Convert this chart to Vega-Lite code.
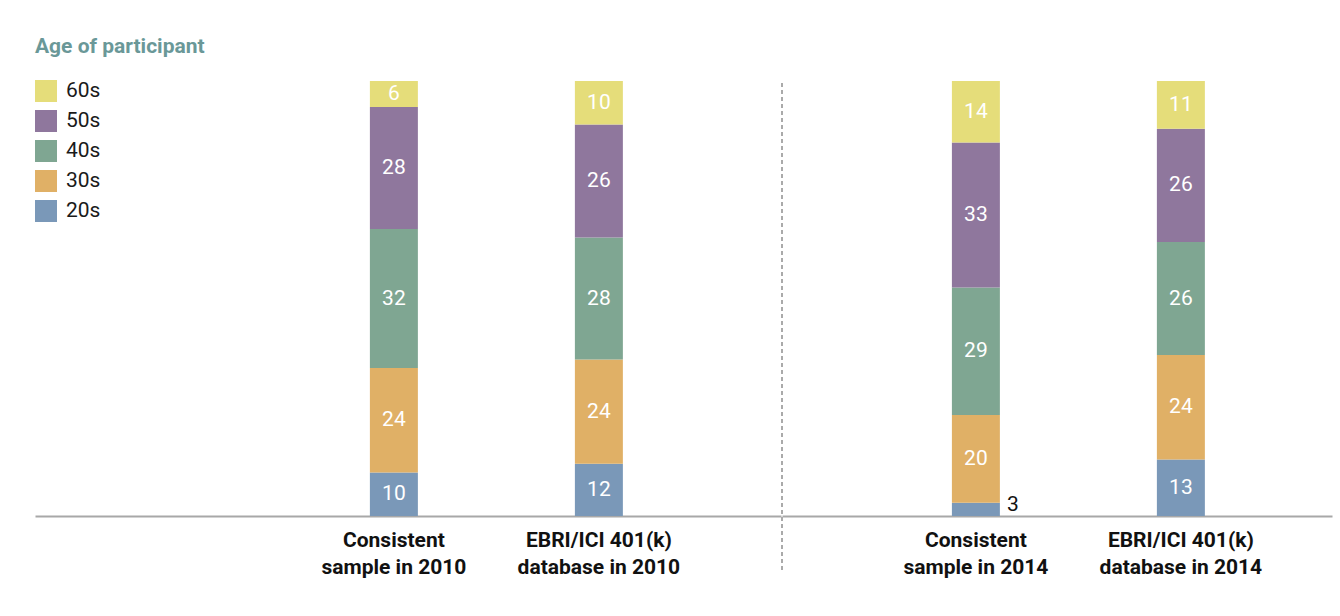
{
  "$schema": "https://vega.github.io/schema/vega-lite/v6.json",
  "background": "white",
  "padding": {"left": 35, "top": 36, "right": 5, "bottom": 5},
  "spacing": 0,
  "config": {"view": {"stroke": null}, "font": "Roboto"},
  "datasets": {"ages": [
    {"period": "2010", "cat": "Consistent sample in 2010", "age": "20s", "pct": 10},
    {"period": "2010", "cat": "Consistent sample in 2010", "age": "30s", "pct": 24},
    {"period": "2010", "cat": "Consistent sample in 2010", "age": "40s", "pct": 32},
    {"period": "2010", "cat": "Consistent sample in 2010", "age": "50s", "pct": 28},
    {"period": "2010", "cat": "Consistent sample in 2010", "age": "60s", "pct": 6},
    {"period": "2010", "cat": "EBRI/ICI 401(k) database in 2010", "age": "20s", "pct": 12},
    {"period": "2010", "cat": "EBRI/ICI 401(k) database in 2010", "age": "30s", "pct": 24},
    {"period": "2010", "cat": "EBRI/ICI 401(k) database in 2010", "age": "40s", "pct": 28},
    {"period": "2010", "cat": "EBRI/ICI 401(k) database in 2010", "age": "50s", "pct": 26},
    {"period": "2010", "cat": "EBRI/ICI 401(k) database in 2010", "age": "60s", "pct": 10},
    {"period": "2014", "cat": "Consistent sample in 2014", "age": "20s", "pct": 3},
    {"period": "2014", "cat": "Consistent sample in 2014", "age": "30s", "pct": 20},
    {"period": "2014", "cat": "Consistent sample in 2014", "age": "40s", "pct": 29},
    {"period": "2014", "cat": "Consistent sample in 2014", "age": "50s", "pct": 33},
    {"period": "2014", "cat": "Consistent sample in 2014", "age": "60s", "pct": 14},
    {"period": "2014", "cat": "EBRI/ICI 401(k) database in 2014", "age": "20s", "pct": 13},
    {"period": "2014", "cat": "EBRI/ICI 401(k) database in 2014", "age": "30s", "pct": 24},
    {"period": "2014", "cat": "EBRI/ICI 401(k) database in 2014", "age": "40s", "pct": 26},
    {"period": "2014", "cat": "EBRI/ICI 401(k) database in 2014", "age": "50s", "pct": 26},
    {"period": "2014", "cat": "EBRI/ICI 401(k) database in 2014", "age": "60s", "pct": 11}
  ]},
  "hconcat": [
    {
      "width": 746,
      "height": 435,
      "data": {"name": "ages"},
      "transform": [
        {"filter": "datum.period == '2010'"},
        {"stack": "pct", "groupby": ["cat"], "offset": "normalize", "sort": [{"field": "age", "order": "ascending"}], "as": ["y0", "y1"]},
        {"calculate": "(datum.y0 + datum.y1) / 2", "as": "mid"}
      ],
      "layer": [
        {
          "mark": {"type": "bar"},
          "encoding": {
            "x": {
              "field": "cat", "type": "nominal",
              "scale": {"domain": [" ", "Consistent sample in 2010", "EBRI/ICI 401(k) database in 2010"], "paddingInner": 0.7659, "paddingOuter": 0.7025, "align": 0.451},
              "axis": {"title": null, "labelAngle": 0, "labelLimit": 0, "ticks": false,
                "labelExpr": "indexof(datum.value, 'Consistent') == 0 ? ['Consistent', slice(datum.value, 11)] : [slice(datum.value, 0, 15), slice(datum.value, 16)]",
                "labelFontSize": 21, "labelFontWeight": "bold", "labelColor": "#111111", "labelPadding": 13, "labelLineHeight": 27,
                "domainColor": "#a8a8a8", "domainWidth": 2}
            },
            "y": {"field": "y0", "type": "quantitative", "scale": {"domain": [0, 1], "nice": false}, "axis": null},
            "y2": {"field": "y1"},
            "color": {"field": "age", "type": "nominal",
              "scale": {"domain": ["60s", "50s", "40s", "30s", "20s"], "range": ["#e5dd7a", "#8f779d", "#7fa692", "#e0b066", "#7a98b8"]},
              "legend": {"orient": "none", "legendX": 0, "legendY": -45, "title": "Age of participant",
                "titleFontSize": 21, "titleFontWeight": "bold", "titleColor": "#6a9898", "titlePadding": 23,
                "symbolType": "square", "symbolSize": 484, "symbolStrokeWidth": 0, "symbolOpacity": 1,
                "labelFontSize": 21, "labelColor": "#1a1a1a", "labelOffset": 9, "rowPadding": 8}}
          }
        },
        {
          "transform": [{"filter": "datum.pct >= 5"}],
          "mark": {"type": "text", "color": "white", "fontSize": 21, "baseline": "middle"},
          "encoding": {
            "x": {"field": "cat", "type": "nominal", "scale": {"domain": [" ", "Consistent sample in 2010", "EBRI/ICI 401(k) database in 2010"]}},
            "y": {"field": "mid", "type": "quantitative"},
            "text": {"field": "pct", "type": "quantitative"}
          }
        }
      ]
    },
    {
      "width": 550,
      "height": 435,
      "data": {"name": "ages"},
      "transform": [
        {"filter": "datum.period == '2014'"},
        {"stack": "pct", "groupby": ["cat"], "offset": "normalize", "sort": [{"field": "age", "order": "ascending"}], "as": ["y0", "y1"]},
        {"calculate": "(datum.y0 + datum.y1) / 2", "as": "mid"}
      ],
      "layer": [
        {
          "mark": {"type": "bar"},
          "encoding": {
            "x": {
              "field": "cat", "type": "nominal",
              "scale": {"domain": ["Consistent sample in 2014", "EBRI/ICI 401(k) database in 2014"], "paddingInner": 0.7659, "paddingOuter": 0.7245, "align": 0.572},
              "axis": {"title": null, "labelAngle": 0, "labelLimit": 0, "ticks": false,
                "labelExpr": "indexof(datum.value, 'Consistent') == 0 ? ['Consistent', slice(datum.value, 11)] : [slice(datum.value, 0, 15), slice(datum.value, 16)]",
                "labelFontSize": 21, "labelFontWeight": "bold", "labelColor": "#111111", "labelPadding": 13, "labelLineHeight": 27,
                "domainColor": "#a8a8a8", "domainWidth": 2}
            },
            "y": {"field": "y0", "type": "quantitative", "scale": {"domain": [0, 1], "nice": false}, "axis": null},
            "y2": {"field": "y1"},
            "color": {"field": "age", "type": "nominal"}
          }
        },
        {
          "mark": {"type": "rule", "strokeDash": [4, 3], "color": "#aaaaaa", "strokeWidth": 1.5},
          "encoding": {"x": {"value": 0}, "y": {"datum": 0.9954}, "y2": {"datum": -0.131}}
        },
        {
          "transform": [{"filter": "datum.pct >= 5"}],
          "mark": {"type": "text", "color": "white", "fontSize": 21, "baseline": "middle"},
          "encoding": {
            "x": {"field": "cat", "type": "nominal", "scale": {"domain": ["Consistent sample in 2014", "EBRI/ICI 401(k) database in 2014"]}},
            "y": {"field": "mid", "type": "quantitative"},
            "text": {"field": "pct", "type": "quantitative"}
          }
        },
        {
          "transform": [{"filter": "datum.pct < 5"}],
          "mark": {"type": "text", "color": "#111111", "fontSize": 21, "baseline": "middle", "align": "left", "dx": 31, "dy": -4},
          "encoding": {
            "x": {"field": "cat", "type": "nominal", "scale": {"domain": ["Consistent sample in 2014", "EBRI/ICI 401(k) database in 2014"]}},
            "y": {"field": "mid", "type": "quantitative"},
            "text": {"field": "pct", "type": "quantitative"}
          }
        }
      ]
    }
  ]
}
